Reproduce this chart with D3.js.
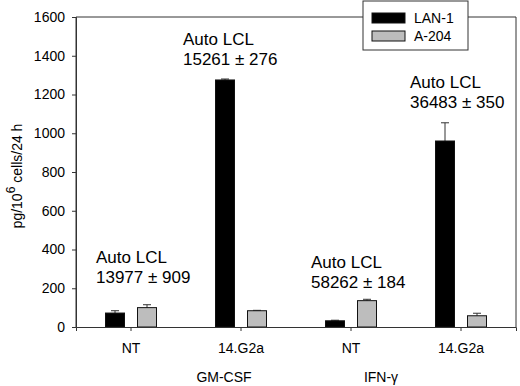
<!DOCTYPE html>
<html>
<head>
<meta charset="utf-8">
<script src="https://cdn.jsdelivr.net/npm/d3@7"></script>
<style>
  body { margin: 0; background: #fff; }
  svg { display: block; font-family: "Liberation Sans", Arial, sans-serif; }
</style>
</head>
<body>
<div id="chart"></div>
<script>
// categories along the x axis (two treatments, each NT / 14.G2a)
const categories = ["GM-CSF NT", "GM-CSF 14.G2a", "IFN NT", "IFN 14.G2a"];
const tickLabels = ["NT", "14.G2a", "NT", "14.G2a"];
const groupLabels = ["GM-CSF", "IFN-\u03b3"];
const series = ["LAN-1", "A-204"];

// values, pg/10^6 cells/24 h
const lan1 = [72, 1275, 32, 960];
const lan1Err = [12, 5, 3, 94];
const a204 = [100, 84, 136, 58];
const a204Err = [15, 2, 7, 13];

// "Auto LCL" notes, one per category
const noteValues = ["13977 \u00b1 909", "15261 \u00b1 276", "58262 \u00b1 184", "36483 \u00b1 350"];
const noteHeights = [330, 1455, 305, 1233];
const yTicks = [0, 200, 400, 600, 800, 1000, 1200, 1400, 1600];

function init() {
  const w = 520, h = 386;
  const left = 76, right = 516, top = 17, bottom = 327;

  const svg = d3.select("#chart").append("svg")
    .attr("width", w).attr("height", h);

  const x = d3.scaleBand().domain(categories).range([left, right]);
  const y = d3.scaleLinear().domain([0, 1600]).range([bottom, top]);
  const center = (c) => x(c) + x.bandwidth() / 2;

  const rows = categories.map((c, i) => ({
    cat: c,
    bars: [
      { s: "LAN-1", v: lan1[i], e: lan1Err[i] },
      { s: "A-204", v: a204[i], e: a204Err[i] }
    ]
  }));

  const fill = { "LAN-1": "#000", "A-204": "#bdbdbd" };

  // bars
  const groups = svg.selectAll("g.cat").data(rows).enter().append("g")
    .attr("class", "cat");

  groups.each(function (d) {
    const inner = d3.scaleBand().domain(series)
      .range([center(d.cat) - 26, center(d.cat) + 26]).paddingInner(0.375);
    const g = d3.select(this);

    // error bars (upper only)
    g.selectAll("g.err").data(d.bars).enter().append("g").attr("class", "err")
      .each(function (b) {
        const cx = inner(b.s) + inner.bandwidth() / 2;
        const e = d3.select(this);
        e.append("line").attr("x1", cx).attr("x2", cx)
          .attr("y1", y(b.v)).attr("y2", y(b.v + b.e))
          .attr("stroke", "#333").attr("stroke-width", 1);
        e.append("line").attr("x1", cx - 4).attr("x2", cx + 4)
          .attr("y1", y(b.v + b.e)).attr("y2", y(b.v + b.e))
          .attr("stroke", "#333").attr("stroke-width", 1);
      });

    g.selectAll("rect").data(d.bars).enter().append("rect")
      .attr("x", (b) => inner(b.s) + 0.5)
      .attr("y", (b) => y(b.v))
      .attr("width", inner.bandwidth() - 1)
      .attr("height", (b) => y(0) - y(b.v))
      .attr("fill", (b) => fill[b.s])
      .attr("stroke", "#111")
      .attr("stroke-width", 1);
  });

  // frame
  svg.append("path")
    .attr("d", `M${left},${bottom}V${top}H${right}V${bottom}`)
    .attr("fill", "none").attr("stroke", "#333").attr("stroke-width", 1);

  // y axis
  const yAxis = svg.append("g").attr("transform", `translate(${left},0)`)
    .call(d3.axisLeft(y).tickValues(yTicks).tickFormat(d3.format("d"))
      .tickSize(4).tickPadding(7));
  yAxis.select(".domain").attr("stroke", "#333");
  yAxis.selectAll("line").attr("stroke", "#333");
  yAxis.selectAll("text").attr("font-size", 14).attr("fill", "#000")
    .attr("font-family", "Liberation Sans, Arial, sans-serif");

  // x axis
  const xAxis = svg.append("g").attr("transform", `translate(0,${bottom})`)
    .call(d3.axisBottom(x).tickSize(4).tickPadding(12)
      .tickFormat((d, i) => tickLabels[i]));
  xAxis.select(".domain").attr("stroke", "#333");
  xAxis.selectAll("line").attr("stroke", "#333");
  xAxis.selectAll("text").attr("font-size", 14).attr("fill", "#000")
    .attr("font-family", "Liberation Sans, Arial, sans-serif");

  // group labels under the axis
  const groupX = [center(categories[1]) - 17, center(categories[2]) + 30];
  svg.selectAll("text.group").data(groupLabels).enter().append("text")
    .attr("class", "group")
    .attr("x", (d, i) => groupX[i])
    .attr("y", 382)
    .attr("text-anchor", "middle")
    .attr("font-size", 14)
    .text((d) => d);

  // y label
  const yl = svg.append("text")
    .attr("transform", "translate(22,176) rotate(-90)")
    .attr("text-anchor", "middle")
    .attr("font-size", 14);
  yl.append("tspan").text("pg/10");
  yl.append("tspan").attr("dy", -7).attr("font-size", 12).text("6");
  yl.append("tspan").attr("dy", 7).text(" cells/24 h");

  // Auto LCL notes
  const noteOffset = [-35, -58, -40, -51];
  const notes = svg.selectAll("g.note").data(categories).enter().append("g")
    .attr("class", "note")
    .attr("transform", (d, i) =>
      `translate(${center(d) + noteOffset[i]},${y(noteHeights[i])})`);
  notes.append("text").attr("font-size", 17).text("Auto LCL");
  notes.append("text").attr("font-size", 17).attr("y", 20)
    .text((d, i) => noteValues[i]);

  // legend
  const lg = svg.append("g").attr("transform", "translate(363,1)");
  lg.append("rect").attr("width", 105).attr("height", 49)
    .attr("fill", "#fff").attr("stroke", "#333");
  const items = lg.selectAll("g.item").data(series).enter().append("g")
    .attr("class", "item")
    .attr("transform", (d, i) => `translate(9,${12 + i * 18})`);
  items.append("rect").attr("width", 33).attr("height", 10)
    .attr("fill", (d) => fill[d]).attr("stroke", "#111");
  items.append("text").attr("x", 42).attr("y", 5).attr("dy", ".35em")
    .attr("font-size", 14).text((d) => d);
}
window.addEventListener("load", init);
</script>
</body>
</html>
